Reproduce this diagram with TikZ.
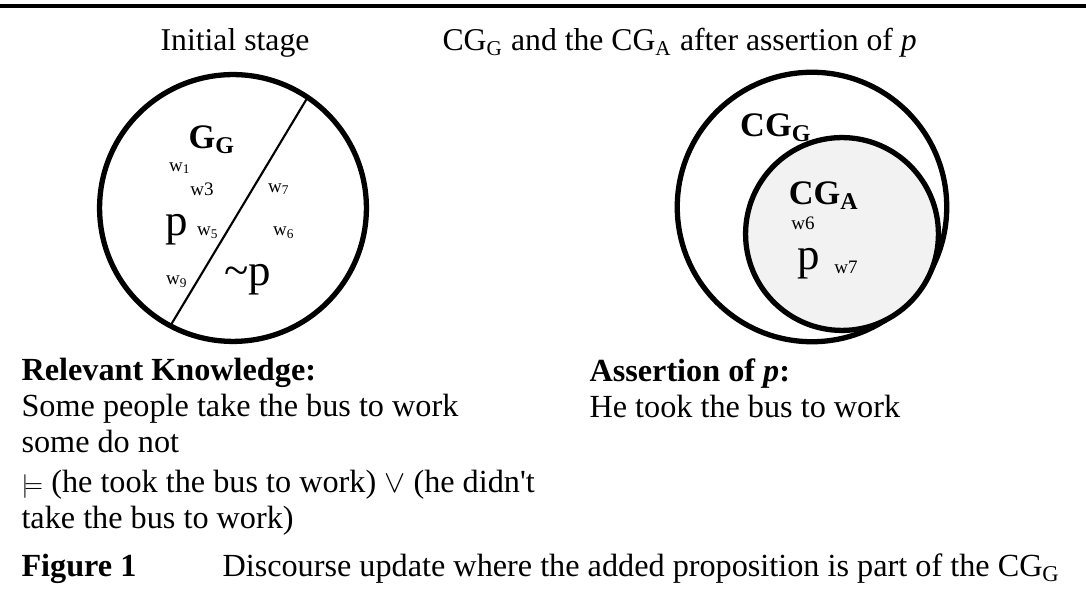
\documentclass[tikz,border=0pt]{standalone}
\usepackage{fontspec}
\setmainfont{Liberation Serif}
\usepackage{amssymb}
\usetikzlibrary{positioning}
\definecolor{cgfill}{HTML}{F2F2F2}

\begin{document}
\begin{tikzpicture}[
    x=0.3785pt, y=-0.3785pt,
    ring/.style={circle, draw=black, line width=2pt, inner sep=0pt, outer sep=0pt},
    head/.style={inner sep=0pt, font=\fontsize{12}{14}\selectfont},
    txt/.style={inner sep=0pt, align=left, anchor=north west, font=\fontsize{12.2}{13.6}\selectfont},
    region/.style={inner sep=0pt, font=\fontsize{13}{15}\selectfont\bfseries},
    bigp/.style={inner sep=0pt, font=\fontsize{17}{19}\selectfont},
    world/.style={inner sep=0pt, font=\fontsize{7.2}{8}\selectfont}
]
    \useasboundingbox (0,0) rectangle (1086,612);
    \draw[line width=1.3pt] (0,6) -- (1086,6);

    % --- left: initial stage ---
    \node[head] (ltitle) at (235,43) {Initial stage};
    \node[ring, minimum size=101pt] (gcirc) at (233,208) {};
    \draw[line width=0.8pt] (gcirc.242) -- (gcirc.56);

    \node[region] (gg) at (212,140) {G\textsubscript{G}};
    \node[world] (w1) at (180,168) {w\textsubscript{1}};
    \node[world] (w3) at (202,189) {w3};
    \node[bigp] (pl) at (177,230) {p};
    \node[world] (w5) at (208,233) {w\textsubscript{5}};
    \node[world] (w9) at (177,282) {w\textsubscript{9}};
    \node[world] (w7) at (279,189) {w\textsubscript{7}};
    \node[world] (w6) at (284,233) {w\textsubscript{6}};
    \node[bigp] (np) at (248,280) {\char`\~p};

    % --- right: after assertion ---
    \node[head, anchor=west] (rtitle) at (442,43) {CG\textsubscript{G} and the CG\textsubscript{A} after assertion of \textit{p}};
    \node[ring, minimum size=102pt] (cgg) at (812,207) {};
    \node[ring, fill=cgfill, minimum size=73pt] (cga) at (842,234) {};

    \node[region] (cgglab) at (776,128) {CG\textsubscript{G}};
    \node[region] (cgalab) at (824,196) {CG\textsubscript{A}};
    \node[world] (rw6) at (803,223) {w6};
    \node[bigp] (pr) at (809,264) {p};
    \node[world] (rw7) at (846,267) {w7};

    % --- text below ---
    \node[txt] (know) at (21,358) {\textbf{Relevant Knowledge:}\\
        Some people take the bus to work\\
        some do not\\[1.5pt]
        {\fontsize{9}{9}\selectfont$\models$} (he took the bus to work) $\vee$ (he didn\textquotesingle t\\
        take the bus to work)};
    \node[txt] (assert) at (589,358) {\textbf{Assertion of \textit{p}:}\\
        He took the bus to work};

    % --- caption ---
    \node[txt, anchor=base west] (fig) at (21,577) {\textbf{Figure 1}};
    \node[txt, anchor=base west] (cap) at (222,577) {Discourse update where the added proposition is part of the CG\textsubscript{G}};
\end{tikzpicture}
\end{document}
